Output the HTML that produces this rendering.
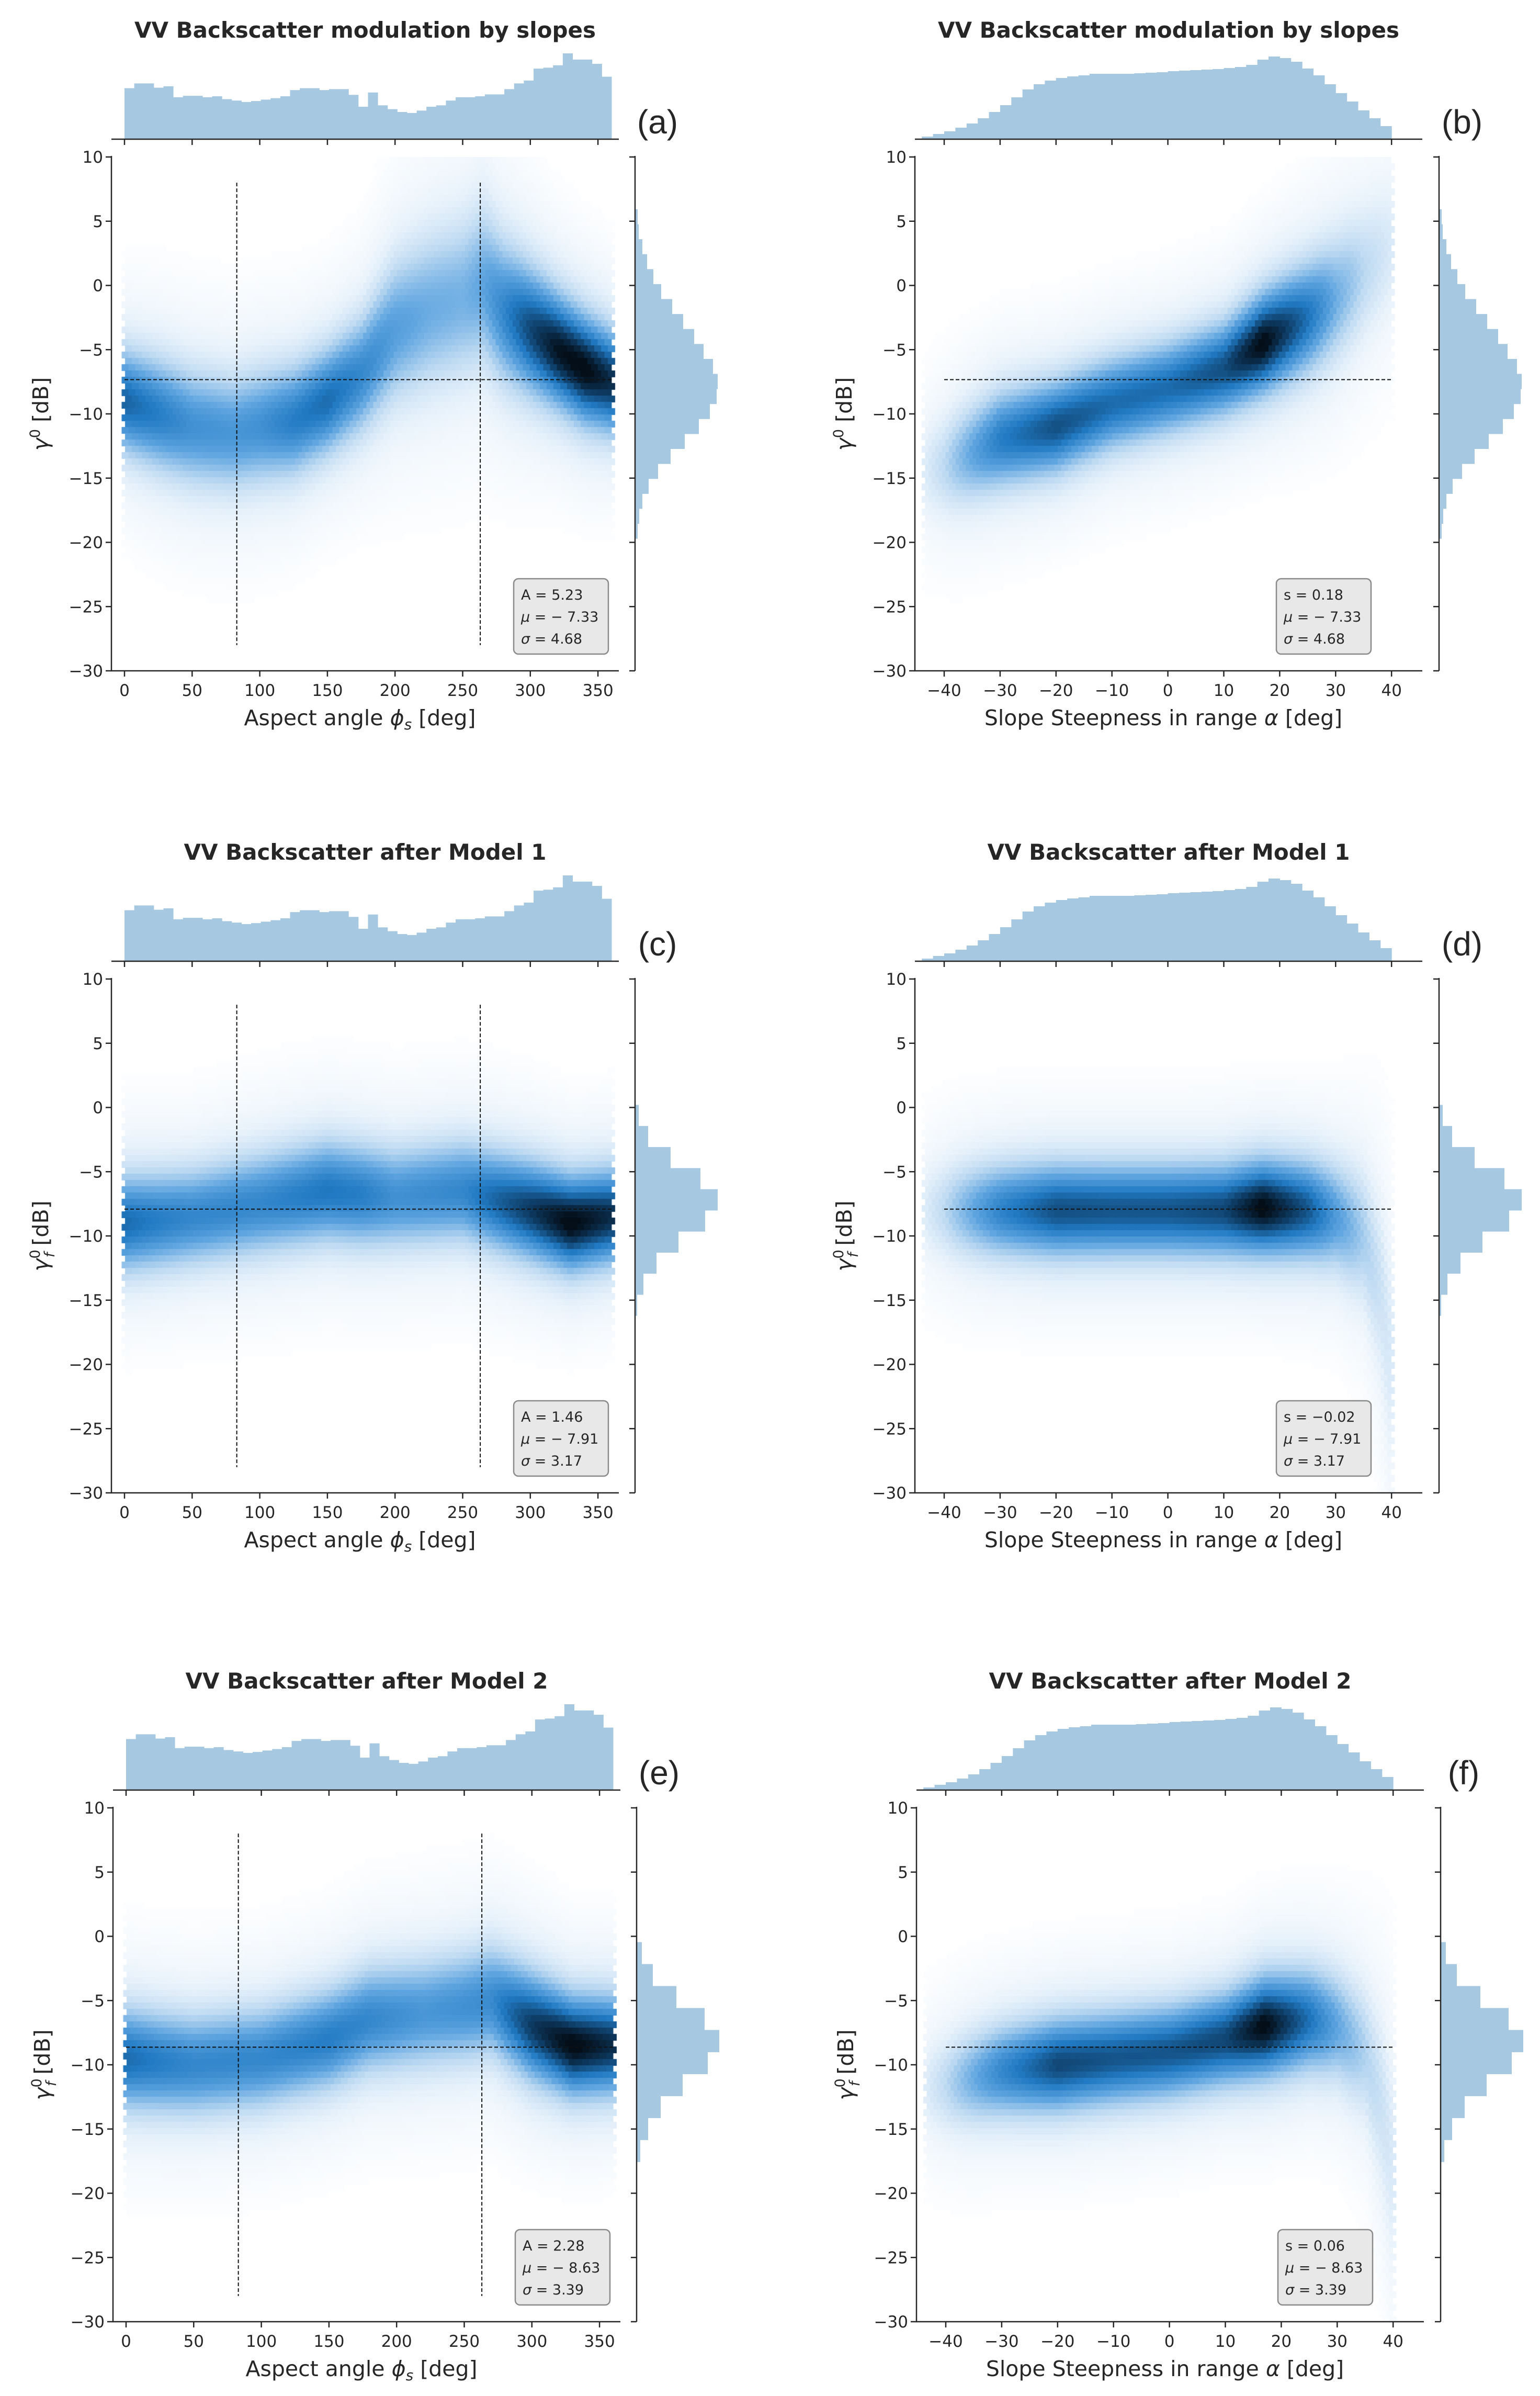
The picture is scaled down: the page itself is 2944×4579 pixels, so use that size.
<!DOCTYPE html>
<html><head><meta charset="utf-8">
<style>
html,body{margin:0;padding:0;background:#fff;}
#wrap{position:relative;width:2944px;height:4579px;overflow:hidden;background:#fff;}
canvas{position:absolute;}
svg{position:absolute;left:0;top:0;}
text{font-family:"DejaVu Sans","Liberation Sans",sans-serif;fill:#262626;}
</style></head>
<body>
<div id="wrap">
<svg id="svg" width="2944" height="4579"></svg>
</div>
<script>
// ---------- marginal histogram data ----------
const aspectHistStart = 0, aspectHistWidth = 7.2;
const aspectHist = [107,117,117,108,111,88,91,91,88,90,84,81,78,80,83,86,90,103,107,107,103,105,105,93,68,98,71,63,57,55,60,68,71,81,88,88,90,94,94,105,117,123,148,150,155,180,167,167,158,131];
const slopeHistStart = -44, slopeHistWidth = 2;
const slopeHist = [5,10,15,22,30,40,52,65,80,95,105,112,117,120,122,125,125,125,125,126,127,128,130,131,132,133,134,136,138,142,152,158,155,148,135,122,105,88,72,55,40,25];
const gammaHistStart = 5.93, gammaHistWidth = 1.165;
const gammaHist = [5,7,14,23,35,50,71,92,113,131,149,158,156,143,122,95,68,44,26,14,8,5];
const m1HistStart = 0.2, m1HistWidth = 1.64;
const m1Hist = [7,25,68,125,158,134,83,41,16,4];
const m2HistStart = -0.45, m2HistWidth = 1.71;
const m2Hist = [10,31,76,130,158,136,88,46,22,7];

// ---------- density ridge data (per panel) ----------
const aKnots  = [0,25,50,80,100,125,150,175,200,225,250,265,280,300,320,340,360];
const aCenter = [-9,-10,-11,-11.5,-11,-10.5,-9,-7,-3.5,-2,-1,0,-2,-3.5,-5,-6.5,-7.5];
const aSpread = [2.3,2.5,2.6,2.6,2.6,2.5,2.4,2.6,3.2,3.5,3.6,3.6,3.2,2.8,2.5,2.4,2.3];
const aWeight = [0.65,0.55,0.45,0.42,0.45,0.55,0.62,0.5,0.38,0.32,0.3,0.35,0.5,0.75,0.95,1.0,0.85];

const bKnots  = [-44,-40,-30,-20,-10,0,10,17,25,30,35,40];
const bCenter = [-14.5,-14,-12,-11,-9.2,-8,-6.5,-4.5,-2.5,-1,1,3];
const bSpread = [2.3,2.3,2.2,2.1,2.1,2.1,2.1,2.2,2.5,2.8,3.0,3.2];
const bWeight = [0.06,0.15,0.55,0.72,0.62,0.62,0.72,1.0,0.6,0.32,0.16,0.08];

const cKnots  = [0,25,50,100,150,175,200,250,300,330,360];
const cCenter = [-9,-8.8,-8.5,-7.5,-6.5,-6.8,-7,-6.5,-8,-9,-8.5];
const cSpread = [2.2,2.2,2.2,2.3,2.3,2.3,2.3,2.3,2.2,2.1,2.1];
const cWeight = [0.62,0.55,0.5,0.5,0.58,0.55,0.45,0.5,0.8,1.0,0.85];

const dKnots  = [-44,-40,-30,-20,-10,0,10,17,25,30,35,38,40];
const dCenter = [-8,-8,-8,-8,-8,-8,-8,-7.8,-8,-8.5,-10,-14,-20];
const dSpread = [2.2,2.2,2.1,2.1,2.1,2.1,2.1,2.1,2.2,2.4,3.0,4.0,5.0];
const dWeight = [0.06,0.15,0.52,0.72,0.7,0.7,0.75,1.0,0.7,0.4,0.2,0.12,0.08];

const eKnots  = [0,25,50,100,150,180,220,250,270,300,330,360];
const eCenter = [-9.5,-9.8,-10,-9.5,-8,-6.5,-6,-5.5,-5,-7,-8.5,-8.5];
const eSpread = [2.3,2.3,2.3,2.3,2.3,2.4,2.5,2.5,2.5,2.4,2.2,2.2];
const eWeight = [0.62,0.55,0.5,0.5,0.55,0.5,0.42,0.45,0.48,0.8,1.0,0.85];

const fKnots  = [-44,-40,-30,-20,-10,0,10,17,25,30,35,38,40];
const fCenter = [-11.8,-11.5,-10.5,-10,-9.5,-9,-8,-7,-6.5,-7,-9,-13,-18];
const fSpread = [2.2,2.2,2.1,2.1,2.1,2.1,2.1,2.2,2.3,2.5,3.0,4.0,5.0];
const fWeight = [0.06,0.15,0.5,0.75,0.7,0.7,0.75,1.0,0.6,0.35,0.18,0.12,0.08];

// ---------- annotations ----------
const titles = ["VV Backscatter modulation by slopes","VV Backscatter after Model 1","VV Backscatter after Model 2"];
const letters = ["(a)","(b)","(c)","(d)","(e)","(f)"];
const statA = ["5.23","1.46","2.28"];
const statS = ["0.18","\u22120.02","0.06"];
const statMu = ["\u2212 7.33","\u2212 7.91","\u2212 8.63"];
const statSig = ["4.68","3.17","3.39"];
const meanLine = [-7.33,-7.91,-8.63];
const aspectLines = [83,263];
const yTicks = [-30,-25,-20,-15,-10,-5,0,5,10];
const aspectTicks = [0,50,100,150,200,250,300,350];
const slopeTicks = [-40,-30,-20,-10,0,10,20,30,40];

const NS="http://www.w3.org/2000/svg";
const svg=document.getElementById('svg');
const wrap=document.getElementById('wrap');
function el(tag,attrs,parent){const e=document.createElementNS(NS,tag);for(const k in attrs)e.setAttribute(k,attrs[k]);(parent||svg).appendChild(e);return e;}
function lerp(xs,ys,x){if(x<=xs[0])return ys[0];for(let i=1;i<xs.length;i++){if(x<=xs[i]){const t=(x-xs[i-1])/(xs[i]-xs[i-1]);return ys[i-1]+t*(ys[i]-ys[i-1]);}}return ys[ys.length-1];}
const stops=[[0,[255,255,255]],[0.08,[232,242,251]],[0.2,[190,218,242]],[0.4,[95,165,224]],[0.62,[33,122,195]],[0.82,[14,62,104]],[1,[4,14,24]]];
function cmap(v){v=Math.max(0,Math.min(1,v));for(let i=1;i<stops.length;i++){if(v<=stops[i][0]){const t=(v-stops[i-1][0])/(stops[i][0]-stops[i-1][0]);const a=stops[i-1][1],b=stops[i][1];return 'rgb('+a.map((c,j)=>Math.round(c+t*(b[j]-c))).join(',')+')';}}return 'rgb(4,14,24)';}

const rowDY=[0,1571,3155], rowDX=[0,0,3];
const panels=[
 {col:0,row:0,kn:aKnots,ce:aCenter,sp:aSpread,wt:aWeight,rh:[gammaHistStart,gammaHistWidth,gammaHist],sup:false},
 {col:1,row:0,kn:bKnots,ce:bCenter,sp:bSpread,wt:bWeight,rh:[gammaHistStart,gammaHistWidth,gammaHist],sup:false},
 {col:0,row:1,kn:cKnots,ce:cCenter,sp:cSpread,wt:cWeight,rh:[m1HistStart,m1HistWidth,m1Hist],sup:true},
 {col:1,row:1,kn:dKnots,ce:dCenter,sp:dSpread,wt:dWeight,rh:[m1HistStart,m1HistWidth,m1Hist],sup:true},
 {col:0,row:2,kn:eKnots,ce:eCenter,sp:eSpread,wt:eWeight,rh:[m2HistStart,m2HistWidth,m2Hist],sup:true},
 {col:1,row:2,kn:fKnots,ce:fCenter,sp:fSpread,wt:fWeight,rh:[m2HistStart,m2HistWidth,m2Hist],sup:true}
];

panels.forEach((p,pi)=>{
 const dy=rowDY[p.row], dx=rowDX[p.row];
 const x0=(p.col===0?213:1749)+dx, x1=x0+970;
 const yTop=300+dy, yBot=1282+dy;
 const xs = p.col===0 ? (d=>238+dx+d*2.586) : (d=>1805+dx+(d+40)*10.69);
 const xinv = p.col===0 ? (px=>(px-238-dx)/2.586) : (px=>(px-1805-dx)/10.69+(-40));
 const ys = v=>yTop+(10-v)*24.55;
 const dmin = p.col===0?0:-44, dmax = p.col===0?360:40;
 const g=el('g',{});  

 // heatmap canvas
 const cv=document.createElement('canvas');
 cv.width=970; cv.height=982; cv.style.left=x0+'px'; cv.style.top=yTop+'px';
 
 
 wrap.insertBefore(cv,svg);
 const ctx=cv.getContext('2d');
 const cw=13, ch=12;
 for(let py=0;py<982;py+=ch){
  for(let px=0;px<970;px+=cw){
   const off=((py/ch)%2)?cw/2:0;
   const cx=px+off+cw/2, cy=py+ch/2;
   const d=xinv(x0+cx); if(d<dmin||d>dmax)continue;
   const v=10-cy/24.55;
   const c=lerp(p.kn,p.ce,d), s=lerp(p.kn,p.sp,d), w=lerp(p.kn,p.wt,d);
   const z=(v-c)/s;
   let val=0.85*w*Math.exp(-0.5*z*z)+0.18*Math.sqrt(w)*Math.exp(-0.5*(z/2.3)*(z/2.3));
   if(val<0.01)continue;
   ctx.fillStyle=cmap(val);
   ctx.fillRect(px+off,py,cw+1,ch+1);
  }
 }

 // top histogram
 const th = p.col===0?[aspectHistStart,aspectHistWidth,aspectHist,164/180]:[slopeHistStart,slopeHistWidth,slopeHist,1];
 const base=266+dy;
 th[2].forEach((h,i)=>{
  const a=xs(th[0]+i*th[1]), b=xs(th[0]+(i+1)*th[1]);
  const r=el('rect',{x:a,y:base-h*th[3],width:b-a+0.5,height:h*th[3],fill:'#a6c8e0'},g);
  
  
 });
 el('line',{x1:x0,y1:base,x2:x1,y2:base,stroke:'#262626','stroke-width':2.5},g);
 const xt = p.col===0?aspectTicks:slopeTicks;
 xt.forEach(t=>{el('line',{x1:xs(t),y1:base,x2:xs(t),y2:base+11,stroke:'#262626','stroke-width':2.5},g);});

 // right histogram
 const hx=(p.col===0?1214:2751)+dx;
 const [rs,rw,rv]=p.rh;
 rv.forEach((h,i)=>{
  const a=ys(rs-i*rw), b=ys(rs-(i+1)*rw);
  const r=el('rect',{x:hx,y:a,width:h,height:b-a+0.5,fill:'#a6c8e0'},g);
  
  
 });
 el('line',{x1:hx,y1:yTop-2,x2:hx,y2:yBot,stroke:'#262626','stroke-width':2.5},g);
 yTicks.forEach(t=>{el('line',{x1:hx-11,y1:ys(t),x2:hx,y2:ys(t),stroke:'#262626','stroke-width':2.5},g);});

 // main axes
 el('line',{x1:x0,y1:yTop-2,x2:x0,y2:yBot+1,stroke:'#262626','stroke-width':2.5},g);
 el('line',{x1:x0-1,y1:yBot,x2:x1,y2:yBot,stroke:'#262626','stroke-width':2.5},g);
 yTicks.forEach(t=>{
  el('line',{x1:x0-11,y1:ys(t),x2:x0,y2:ys(t),stroke:'#262626','stroke-width':2.5},g);
  const tx=el('text',{x:x0-16,y:ys(t)+11,'text-anchor':'end','font-size':31},g);
  tx.textContent=(t<0?'\u2212'+(-t):''+t);
  
  
 });
 xt.forEach(t=>{
  el('line',{x1:xs(t),y1:yBot,x2:xs(t),y2:yBot+11,stroke:'#262626','stroke-width':2.5},g);
  const tx=el('text',{x:xs(t),y:yBot+48,'text-anchor':'middle','font-size':31},g);
  tx.textContent=(t<0?'\u2212'+(-t):''+t);
  
  
 });

 // dashed lines
 const mean=meanLine[p.row];
 if(p.col===0){
  el('line',{x1:xs(0),y1:ys(mean),x2:xs(360),y2:ys(mean),stroke:'#111','stroke-width':2,'stroke-dasharray':'7,4'},g);
  aspectLines.forEach(a=>{el('line',{x1:xs(a),y1:ys(8),x2:xs(a),y2:ys(-28),stroke:'#111','stroke-width':2,'stroke-dasharray':'7,4'},g);});
 } else {
  el('line',{x1:xs(-40),y1:ys(mean),x2:xs(40),y2:ys(mean),stroke:'#111','stroke-width':2,'stroke-dasharray':'7,4'},g);
 }

 // stats box
 const bx=(p.col===0?982:2440)+dx, by=1106+dy;
 const box=el('rect',{x:bx,y:by,width:181,height:144,rx:9,fill:'#e8e8e8',stroke:'#8a8a8a','stroke-width':2.5},g);
 
 
 const l1=el('text',{x:bx+14,y:by+40,'font-size':27},g);
 l1.textContent=p.col===0?('A = '+statA[p.row]):('s = '+statS[p.row]);
 const l2=el('text',{x:bx+14,y:by+82,'font-size':27},g);
 l2.innerHTML='<tspan font-style="italic">\u03bc</tspan> = '+statMu[p.row];
 const l3=el('text',{x:bx+14,y:by+124,'font-size':27},g);
 l3.innerHTML='<tspan font-style="italic">\u03c3</tspan> = '+statSig[p.row];

 // title
 const tt=el('text',{x:(x0+x1)/2,y:72+dy,'text-anchor':'middle','font-size':42,'font-weight':'bold',fill:'#000'},g);
 tt.textContent=titles[p.row];
 
 
 // letter
 const lx=(p.col===0?1257:2795)+dx;
 const lt=el('text',{x:lx,y:255+dy,'text-anchor':'middle','font-size':64,fill:'#000',style:'font-family:"Liberation Sans",sans-serif'},g);
 lt.textContent=letters[pi];
 
 

 // x label
 const xl=el('text',{x:(x0+x1)/2-10,y:yBot+104,'text-anchor':'middle','font-size':41},g);
 xl.innerHTML = p.col===0 ? 'Aspect angle <tspan font-style="italic">\u03d5</tspan><tspan font-style="italic" font-size="28" dy="8">s</tspan><tspan dy="-8"> [deg]</tspan>'
   : 'Slope Steepness in range <tspan font-style="italic">\u03b1</tspan> [deg]';
 
 
 // y label
 const ylx=(p.col===0?92:1628)+dx, yly=(yTop+yBot)/2;
 const yl=el('text',{x:ylx,y:yly,'text-anchor':'middle','font-size':41,transform:'rotate(-90 '+ylx+' '+yly+')'},g);
 yl.innerHTML = p.sup ? '<tspan font-style="italic">\u03b3</tspan><tspan font-size="27" dy="-16">0</tspan><tspan font-size="27" font-style="italic" dx="-15" dy="28">f</tspan><tspan dy="-12"> [dB]</tspan>'
   : '<tspan font-style="italic">\u03b3</tspan><tspan font-size="27" dy="-16">0</tspan><tspan dy="16"> [dB]</tspan>';
 
 
});
</script>
</body></html>
